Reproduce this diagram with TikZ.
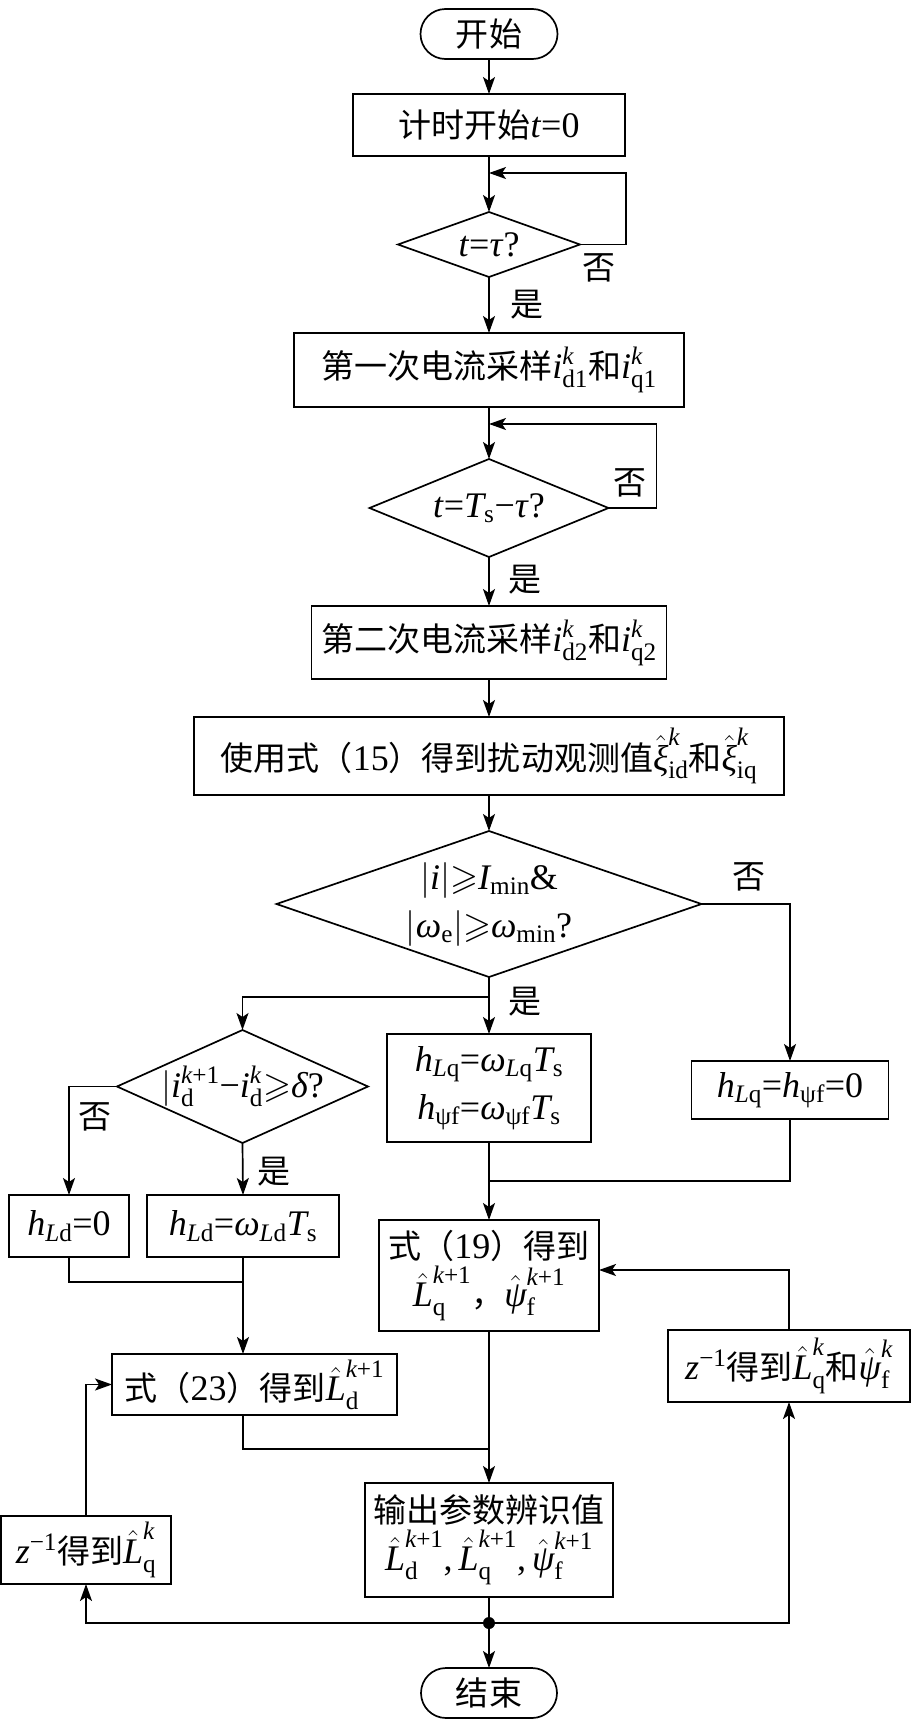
\documentclass[tikz,border=0pt]{standalone}
\usepackage{fix-cm}
\usepackage{amsmath,amssymb}
\usepackage{fontspec}
\setmainfont{Liberation Serif}
\newfontfamily\cjkfont{Noto Sans CJK SC}[Scale=0.917]
\newcommand{\zh}[1]{{\cjkfont #1}}
\newcommand{\vv}[1]{\text{\normalfont\itshape #1}}
\newcommand{\rr}[1]{\text{\normalfont #1}}
\newcommand{\mygeq}{\mathord{\geqslant}}
\usetikzlibrary{shapes.geometric,arrows.meta}
\begin{document}
\begin{tikzpicture}[x=1pt,y=-1pt,
  line width=1.7pt,
  every node/.style={font=\fontsize{36}{48}\selectfont, inner sep=0pt, outer sep=0pt},
  box/.style={draw, rectangle, align=center},
  term/.style={draw, rectangle, rounded corners=25pt},
  dia/.style={draw, diamond},
  arr/.style={-{Stealth[length=17pt,width=12pt,inset=4pt]}}
]
\useasboundingbox (0,0) rectangle (911,1719);

% nodes
\node[term, minimum width=137pt, minimum height=50pt] (start) at (489,34) {\zh{开始}};
\node[box, minimum width=272pt, minimum height=62pt] (b1) at (489,125) {\zh{计时开始}\textit{t}=0};
\node[dia, minimum width=182pt, minimum height=65pt] (d1) at (489,244.5) {};
\node (d1t) at (d1) {\textit{t}=\textit{τ}?};
\node[box, minimum width=390pt, minimum height=74pt] (b2) at (489,370)
  {\zh{第一次电流采样}$\vv{i}^{\vv{k}}_{\rr{d1}}$\zh{和}$\vv{i}^{\vv{k}}_{\rr{q1}}$};
\node[dia, minimum width=239pt, minimum height=98pt] (d2) at (489,508) {};
\node (d2t) at (d2) {\textit{t}=$\vv{T}_{\rr{s}}$−\textit{τ}?};
\node[box, minimum width=355pt, minimum height=73pt] (b3) at (489,642.5)
  {\zh{第二次电流采样}$\vv{i}^{\vv{k}}_{\rr{d2}}$\zh{和}$\vv{i}^{\vv{k}}_{\rr{q2}}$};
\node[box, minimum width=590pt, minimum height=78pt] (b4) at (489,756)
  {\zh{使用式（}15\zh{）得到扰动观测值}$\hat{\vv{ξ}}^{\vv{k}}_{\rr{id}}$\zh{和}$\hat{\vv{ξ}}^{\vv{k}}_{\rr{iq}}$};
\node[dia, minimum width=425pt, minimum height=146pt] (d3) at (489,904) {};
\node[align=center] (d3t) at (d3) {$|\vv{i}|\mygeq\vv{I}_{\rr{min}}$\&\\$|\vv{ω}_{\rr{e}}|\mygeq\vv{ω}_{\rr{min}}$?};
\node[dia, minimum width=251pt, minimum height=113pt] (d4) at (242.5,1086.5) {};
\node (d4t) at (d4) {$|\vv{i}^{\vv{k}\rr{+1}}_{\rr{d}}$−$\vv{i}^{\vv{k}}_{\rr{d}}\mygeq\vv{δ}$?};
\node[box, minimum width=204pt, minimum height=108pt] (bm) at (489,1088)
  {$\vv{h}_{\vv{L}\rr{q}}$=$\vv{ω}_{\vv{L}\rr{q}}\vv{T}_{\rr{s}}$\\$\vv{h}_{\rr{ψf}}$=$\vv{ω}_{\rr{ψf}}\vv{T}_{\rr{s}}$};
\node[box, minimum width=197pt, minimum height=58pt] (br) at (790,1090)
  {$\vv{h}_{\vv{L}\rr{q}}$=$\vv{h}_{\rr{ψf}}$=0};
\node[box, minimum width=120pt, minimum height=62pt] (hl0) at (69,1226) {$\vv{h}_{\vv{L}\rr{d}}$=0};
\node[box, minimum width=192pt, minimum height=62pt] (hl1) at (243,1226) {$\vv{h}_{\vv{L}\rr{d}}$=$\vv{ω}_{\vv{L}\rr{d}}\vv{T}_{\rr{s}}$};
\node[box, minimum width=220pt, minimum height=111pt] (b19) at (489,1275.5)
  {\zh{式（}19\zh{）得到}\\$\hat{\vv{L}}^{\vv{k}\rr{+1}}_{\rr{q}}$\zh{，}$\hat{\vv{ψ}}^{\vv{k}\rr{+1}}_{\rr{f}}$};
\node[box, minimum width=285pt, minimum height=61pt] (b23) at (254.5,1384.5)
  {\zh{式（}23\zh{）得到}$\hat{\vv{L}}^{\vv{k}\rr{+1}}_{\rr{d}}$};
\node[box, minimum width=242pt, minimum height=72pt] (zr) at (789,1366)
  {$\vv{z}^{\rr{−1}}$\zh{得到}$\hat{\vv{L}}^{\vv{k}}_{\rr{q}}$\zh{和}$\hat{\vv{ψ}}^{\vv{k}}_{\rr{f}}$};
\node[box, minimum width=248pt, minimum height=114pt] (out) at (489,1540)
  {\zh{输出参数辨识值}\\$\hat{\vv{L}}^{\vv{k}\rr{+1}}_{\rr{d}}$,\,$\hat{\vv{L}}^{\vv{k}\rr{+1}}_{\rr{q}}$,\,$\hat{\vv{ψ}}^{\vv{k}\rr{+1}}_{\rr{f}}$};
\node[box, minimum width=170pt, minimum height=68pt] (zl) at (86,1550)
  {$\vv{z}^{\rr{−1}}$\zh{得到}$\hat{\vv{L}}^{\vv{k}}_{\rr{q}}$};
\node[term, minimum width=136pt, minimum height=50pt] (end) at (489,1693) {\zh{结束}};

% labels
\node (n1) at (599,268) {\zh{否}};
\node (y1) at (527,305) {\zh{是}};
\node (n2) at (630,483) {\zh{否}};
\node (y2) at (525,580) {\zh{是}};
\node (n3) at (749,877) {\zh{否}};
\node (y3) at (525,1002) {\zh{是}};
\node (n4) at (95,1117) {\zh{否}};
\node (y4) at (274,1172) {\zh{是}};

% helper coordinates
\coordinate (l1) at (489,173);
\coordinate (l2) at (489,424);
\coordinate (j1) at (489,997);
\coordinate (j2) at (243,1282);
\coordinate (j3) at (489,1181);
\coordinate (j4) at (489,1449);
\coordinate (dot) at (489,1623);

% connectors
\draw[arr] (start.south) -- (b1.north);
\draw[arr] (b1.south) -- (d1.north);
\draw[arr] (d1.east) -- ++(46,0) |- (l1);
\draw[arr] (d1.south) -- (b2.north);
\draw[arr] (b2.south) -- (d2.north);
\draw[arr] (d2.east) -- ++(48,0) |- (l2);
\draw[arr] (d2.south) -- (b3.north);
\draw[arr] (b3.south) -- (b4.north);
\draw[arr] (b4.south) -- (d3.north);
\draw[arr] (d3.south) -- (bm.north);
\draw[arr] (j1) -| (d4.north);
\draw[arr] (d3.east) -| (br.north);
\draw[arr] (d4.west) -| (hl0.north);
\draw[arr] (d4.south) -- (hl1.north);
\draw (hl0.south) |- (j2);
\draw[arr] (hl1.south) -- (b23.north -| hl1.south);
\draw[arr] (bm.south) -- (b19.north);
\draw (br.south) |- (j3);
\draw[arr] (b19.south) -- (out.north);
\draw (b23.south -| hl1.south) |- (j4);
\draw (out.south) -- (dot);
\draw[arr] (dot) -- (end.north);
\fill (dot) circle (6pt);
\draw[arr] (dot) -| (zl.south);
\draw[arr] (zl.north) |- (b23.west);
\draw[arr] (dot) -| (zr.south);
\draw[arr] (zr.north) |- ([yshift=5.5pt]b19.east);
\end{tikzpicture}
\end{document}
